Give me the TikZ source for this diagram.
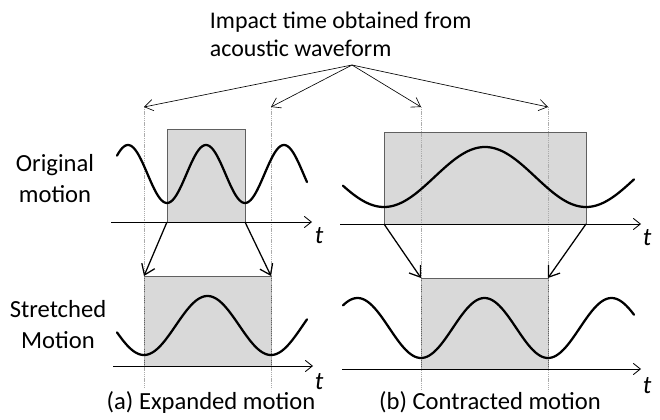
\documentclass[tikz,border=0pt]{standalone}
\usepackage{fontspec}
\setmainfont{Carlito}
\usetikzlibrary{arrows.meta, positioning}
\tikzset{
    lbl/.style = {font=\fontsize{17.5}{22}\selectfont, align=center},
    tlbl/.style = {font=\fontsize{18}{20}\selectfont\itshape, inner sep=0pt},
    window/.style = {draw=gray!75!black, fill=gray!30, line width=0.5pt},
    marker/.style = {draw=gray!65, line width=0.4pt, dash pattern=on 0.8pt off 0.5pt},
    axis/.style = {line width=0.6pt, -{Straight Barb[length=5pt, width=8pt]}},
    wave/.style = {line width=1.6pt, line join=round, line cap=round},
    pointer/.style = {line width=0.45pt, -{Straight Barb[length=6pt, width=8pt]}},
    mapping/.style = {line width=0.9pt, -{Straight Barb[length=7pt, width=10pt]}}
}

\begin{document}
\begin{tikzpicture}[x=0.025cm, y=-0.025cm]
    \useasboundingbox [fill=white] (0,0) rectangle (660,420);

    % Title and source of the pointers
    \node (title) [lbl, font=\fontsize{17}{20}\selectfont, align=left, anchor=north west] at (205,7) {Impact time obtained from\\acoustic waveform};
    \coordinate (src) at (352,65);

    % Impact times (marker tops)
    \coordinate (ia1) at (144,107);
    \coordinate (ia2) at (271,107);
    \coordinate (ib1) at (421,107);
    \coordinate (ib2) at (548,107);

    % Windows
    \coordinate (oa1) at (167,222);
    \coordinate (oa2) at (245,222);
    \coordinate (sa1) at (144,276);
    \coordinate (sa2) at (271,276);
    \coordinate (ob1) at (384,224);
    \coordinate (ob2) at (586,224);
    \coordinate (sb1) at (421,278);
    \coordinate (sb2) at (548,278);
    \draw [window] (167,129) rectangle (oa2);
    \draw [window] (sa1) rectangle (271,366);
    \draw [window] (384,132) rectangle (ob2);
    \draw [window] (sb1) rectangle (548,369);

    % Markers
    \draw [marker] (ia1) -- (144,387);
    \draw [marker] (ia2) -- (271,387);
    \draw [marker] (ib1) -- (421,390);
    \draw [marker] (ib2) -- (548,390);

    % Time axes
    \coordinate (axa1) at (111,222);
    \coordinate (axa2) at (312,222);
    \coordinate (axa3) at (113,366);
    \coordinate (axa4) at (313,366);
    \coordinate (axb1) at (340,224);
    \coordinate (axb2) at (641,224);
    \coordinate (axb3) at (342,369);
    \coordinate (axb4) at (641,369);
    \draw [axis] (axa1) -- (axa2);
    \draw [axis] (axa3) -- (axa4);
    \draw [axis] (axb1) -- (axb2);
    \draw [axis] (axb3) -- (axb4);
    \node (ta1) [tlbl] at (319,236) {t};
    \node (ta2) [tlbl] at (319,382) {t};
    \node (tb1) [tlbl] at (647,238) {t};
    \node (tb2) [tlbl] at (647,386) {t};

    % Motions
    \draw [wave] plot[domain=117:307, samples=150] (\x, {174-29*cos(360/78*(\x-206))});
    \draw [wave] plot[domain=117:307, samples=150] (\x, {325.5+29.5*cos(360/127*(\x-144))});
    \draw [wave] plot[domain=343:634, samples=150] (\x, {177+30*cos(360/202*(\x-384))});
    \draw [wave] plot[domain=343:634, samples=150] (\x, {328+30*cos(360/127*(\x-421))});

    % Pointers to impact times
    \foreach \t in {ia1, ia2, ib1, ib2}
        \draw [pointer] (src) -- (\t);

    % Mapping of windows
    \draw [mapping] (oa1) -- (sa1);
    \draw [mapping] (oa2) -- (sa2);
    \draw [mapping] (ob1) -- (sb1);
    \draw [mapping] (ob2) -- (sb2);

    % Row and panel labels
    \node (orig) [lbl] at (55,179) {Original\\motion};
    \node (stretch) [lbl] at (58,325) {Stretched\\Motion};
    \node (capa) [lbl, inner sep=1pt] at (211,402) {(a) Expanded motion};
    \node (capb) [lbl, inner sep=1pt] at (490,402) {(b) Contracted motion};
\end{tikzpicture}
\end{document}
